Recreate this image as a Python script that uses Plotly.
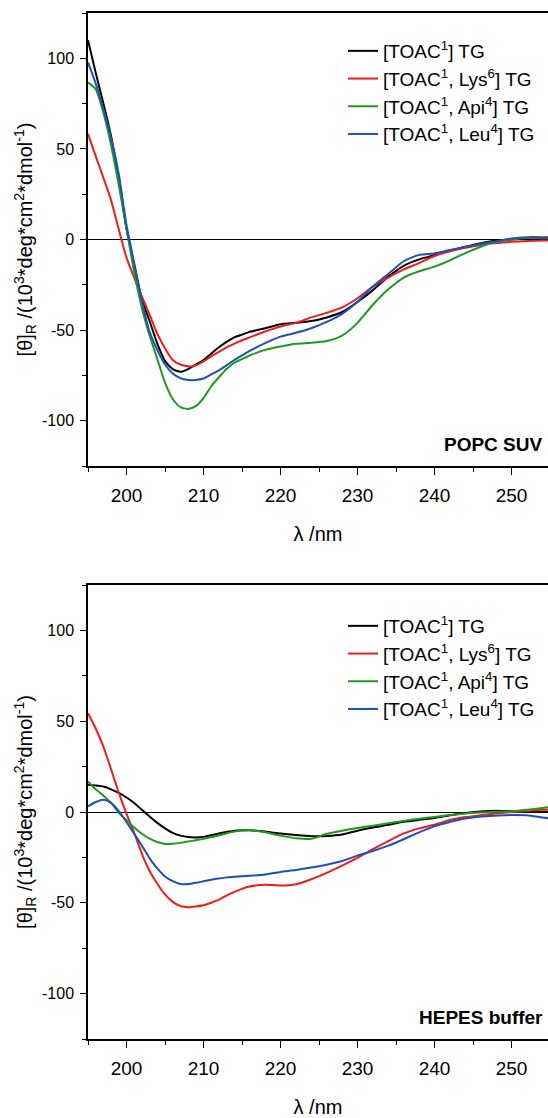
import plotly.graph_objects as go

# ---------------- data ----------------
wavelength = [195, 196, 197, 198, 199, 200, 201, 202, 203, 204, 205, 206, 207, 208, 209,
              210, 211, 212, 213, 214, 215, 216, 218, 220, 222, 224, 226, 228, 230, 232,
              234, 236, 238, 240, 242, 244, 246, 248, 250, 252, 254, 255]

series_names = ["[TOAC<sup>1</sup>] TG",
                "[TOAC<sup>1</sup>, Lys<sup>6</sup>] TG",
                "[TOAC<sup>1</sup>, Api<sup>4</sup>] TG",
                "[TOAC<sup>1</sup>, Leu<sup>4</sup>] TG"]
series_colors = ["#000000", "#f51a1a", "#1e9a1e", "#1f4fb8"]

# POPC SUV
popc_toac = [110, 92, 75, 57, 33, 6, -14, -33, -45, -57.5, -67, -71.5, -73, -71.5, -69,
             -66.5, -63, -59.5, -56.5, -54, -52.5, -51, -49, -46.8, -46, -45, -43, -40,
             -34.5, -28, -20.5, -14.5, -11, -8.6, -6.2, -4, -2, -0.5, 0, 0.5, 0.7, 0.7]
popc_lys = [58.3, 46, 34, 21.6, 5.5, -10, -21, -31.5, -41.5, -52, -60, -66.5, -69, -70,
            -69.5, -67.3, -64.5, -62, -59.5, -57.5, -55.6, -54, -50.8, -48, -46, -43,
            -40.5, -37.5, -32.4, -26, -21, -16.5, -13, -9.1, -6.5, -4.6, -3, -2, -1.3,
            -0.8, -0.5, -0.5]
popc_api = [86.7, 83, 70, 52, 30, 6, -18, -38, -53, -66, -79, -88, -92.5, -93.5, -92,
            -87.5, -81, -76, -71.5, -68, -66, -64, -60.9, -59, -57.5, -57, -56, -53, -46,
            -36, -27.5, -21, -17.5, -15, -11.5, -7.5, -4, -1.3, 0, 0.8, 1, 1]
popc_leu = [97.7, 86, 72, 56, 36, 8, -13, -34, -51, -61, -69, -74, -76.5, -77.5, -77.5,
            -76.7, -74.5, -72.2, -69.5, -66.5, -64, -61.5, -57.2, -53.6, -51.5, -49, -45.5,
            -41, -34.3, -26, -19, -12, -8.5, -7.7, -5.8, -4, -2.3, -1, 0.6, 1.3, 1.3, 1.2]

# HEPES buffer
hepes_toac = [15, 14.6, 14, 12.5, 10.5, 8, 5, 1.2, -2.5, -6, -9, -11.5, -13, -13.8, -14,
              -13.7, -12.8, -11.8, -11, -10.3, -10, -10.1, -10.8, -11.9, -12.7, -13.3,
              -13.2, -12.4, -10.3, -8.5, -7, -5.4, -4.3, -3.3, -1.8, -0.5, 0.3, 0.7, 0.4,
              0.2, 0, 0]
hepes_lys = [54.4, 46, 36, 23.5, 10.5, -1, -11.5, -23, -32.5, -39.5, -45.4, -49.5, -51.8,
             -52.4, -52, -51.3, -50, -48.3, -46, -44, -42.3, -41, -40, -40.5, -39.8, -37,
             -33.5, -29.5, -25.3, -20.5, -16, -11.8, -9, -7, -4.4, -2.8, -1.8, -0.8, 0,
             0.6, 1.2, 1.3]
hepes_api = [16.8, 12.5, 9, 5, -0.5, -4.5, -8.5, -12, -14.7, -16.5, -17.6, -17.5, -17,
             -16.3, -15.5, -14.8, -13.8, -12.9, -11.8, -10.8, -10.2, -10, -11.2, -13,
             -14.5, -14.8, -12, -10.3, -8.8, -7.5, -6.2, -4.9, -3.7, -2.7, -1.7, -0.8,
             -0.3, 0.1, 0.4, 1.2, 2.2, 2.7]
hepes_leu = [3.1, 5.5, 6.8, 5, 0.5, -5.5, -12, -18.5, -25.5, -31, -35.5, -38.1, -39.7,
             -39.7, -39, -38.1, -37.3, -36.6, -36, -35.7, -35.4, -35.1, -34.4, -33, -32,
             -30.6, -29, -27, -24, -21.5, -18.5, -15, -11.2, -7.9, -5.5, -3.6, -2.5, -2,
             -1.6, -1.8, -3, -3.5]

panel_labels = ["POPC SUV", "HEPES buffer"]
x_ticks = [200, 210, 220, 230, 240, 250]
y_ticks = [-100, -50, 0, 50, 100]
y_ticklabels = ["-100", "-50", "0", "50", "100"]

# ---------------- figure ----------------
FONT = "Liberation Sans, Arial, sans-serif"
fig = go.Figure()

panels = [
    ([popc_toac, popc_lys, popc_api, popc_leu], "x", "y", "legend"),
    ([hepes_toac, hepes_lys, hepes_api, hepes_leu], "x2", "y2", "legend2"),
]
for vals, xa, ya, lg in panels:
    for name, color, v in zip(series_names, series_colors, vals):
        fig.add_trace(go.Scatter(
            x=wavelength, y=v, mode="lines", name=name,
            line=dict(color=color, width=2, shape="spline", smoothing=0.6),
            xaxis=xa, yaxis=ya, legend=lg,
        ))

W, H = 548, 1118
ml, mr, mt, mb = 88, 0, 13, 79
plot_h = H - mt - mb
top_dom = [(H - mb - 466) / plot_h, 1.0]
bot_dom = [0.0, (H - mb - 585) / plot_h]

x_range = [195, 195 + (W - ml) / 7.7]

def xaxis_cfg(domain_anchor):
    return dict(
        range=x_range, tickvals=x_ticks, ticks="outside", ticklen=7, tickwidth=1.3,
        tickcolor="black", showline=True, linecolor="black", linewidth=1.5,
        mirror=True, showgrid=False, zeroline=False, anchor=domain_anchor,
        tickfont=dict(family=FONT, size=19, color="black"), ticklabelstandoff=4,
        minor=dict(dtick=5, tick0=195, ticks="outside", ticklen=4, tickcolor="black",
                   tickwidth=1.3, showgrid=False),
        title=dict(text="λ /nm", font=dict(family=FONT, size=20, color="black"),
                   standoff=22),
    )

def yaxis_cfg(domain, anchor):
    return dict(
        domain=domain, range=[-125, 125], tickvals=y_ticks, ticktext=y_ticklabels,
        ticks="outside", ticklen=6,
        tickwidth=1.3, tickcolor="black", showline=True, linecolor="black",
        linewidth=1.5, showgrid=False, zeroline=True, zerolinecolor="black",
        zerolinewidth=1.2, anchor=anchor,
        tickfont=dict(family=FONT, size=16, color="black"), ticklabelstandoff=3,
        minor=dict(dtick=25, tick0=0, ticks="outside", ticklen=4, tickcolor="black",
                   tickwidth=1.3, showgrid=False),
        title=dict(text="[θ]<sub>R</sub> /(10<sup>3</sup>*deg*cm<sup>2</sup>*dmol<sup>-1</sup>)",
                   font=dict(family=FONT, size=20, color="black"), standoff=4),
    )

legend_common = dict(
    font=dict(family=FONT, size=19, color="black"), bgcolor="rgba(0,0,0,0)",
    borderwidth=0, xanchor="left", yanchor="top", itemwidth=30,
)

fig.update_layout(
    width=W, height=H, margin=dict(l=ml, r=mr, t=mt, b=mb),
    paper_bgcolor="white", plot_bgcolor="white",
    font=dict(family=FONT, color="black"),
    xaxis=dict(**xaxis_cfg("y"), domain=[0, 1]),
    yaxis=yaxis_cfg(top_dom, "x"),
    xaxis2=dict(**xaxis_cfg("y2"), domain=[0, 1]),
    yaxis2=yaxis_cfg(bot_dom, "x2"),
    legend=dict(**legend_common, x=(343 - ml) / (W - ml), y=(H - mb - 32) / plot_h),
    legend2=dict(**legend_common, x=(343 - ml) / (W - ml), y=(H - mb - 607) / plot_h),
    showlegend=True,
)

for label, xr, yr in [(panel_labels[0], "x domain", "y"), (panel_labels[1], "x2 domain", "y2")]:
    fig.add_annotation(text="<b>%s</b>" % label, x=1, y=-113, xref=xr, yref=yr,
                       xanchor="right", yanchor="middle", xshift=-3, showarrow=False,
                       font=dict(family=FONT, size=19, color="black"))

fig.write_html(
    "out.html",
    config={"displayModeBar": False},
    post_script="document.body.style.margin='0';document.body.style.padding='0';"
                "document.body.style.overflow='hidden';",
)
